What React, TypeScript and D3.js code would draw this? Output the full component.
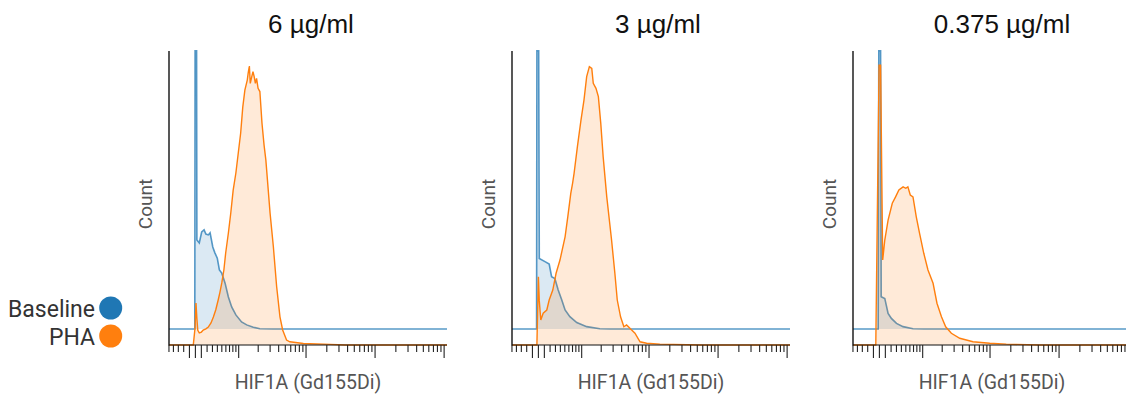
import React from 'react';
import * as d3 from 'd3';

// ---------- data ----------
const panelTitles = ['6 µg/ml', '3 µg/ml', '0.375 µg/ml'];
const seriesNames = ['Baseline', 'PHA'];
const seriesColors = ['#1f77b4', '#ff7f0e'];
const xLabel = 'HIF1A (Gd155Di)';
const yLabel = 'Count';

// x tick values in raw intensity units (arcsinh axis, cofactor 5)
const majorTicks = [-1, 0, 1, 10, 100, 1000, 10000];
const minorTicks = [
  -5, -4, -3, -2,
  2, 3, 4, 5, 6, 7, 8, 9,
  20, 30, 40, 50, 60, 70, 80, 90,
  200, 300, 400, 500, 600, 700, 800, 900,
  2000, 3000, 4000, 5000, 6000, 7000, 8000, 9000,
];

// histogram points: [arcsinh(intensity/5), % of max count]
const baseline6: [number, number][] = [
  [-0.88, 0], [-0.02, 0], [-0.01, 94.6], [0.04, 94.6], [0.05, 30.3], [0.13, 29.3], [0.21, 33], [0.29, 33.7],
  [0.35, 32.3], [0.43, 32], [0.49, 32.7], [0.58, 27.9], [0.65, 25.9], [0.73, 24.1], [0.8, 20.1], [0.88, 19],
  [0.99, 15.6], [1.1, 10.9], [1.21, 7.5], [1.35, 4.8], [1.54, 2.4], [1.71, 1.4], [1.93, 0.6], [2.15, 0.1],
  [2.59, 0], [8.39, 0],
];
const pha6: [number, number][] = [
  [-0.88, 0], [-0.07, 0], [-0.01, 6], [0.02, 14.3], [0.05, 9], [0.08, 5], [0.13, 4.1], [0.2, 4.4], [0.26, 5.1],
  [0.35, 5.5], [0.43, 6.1], [0.52, 7.5], [0.6, 9.5], [0.68, 12], [0.76, 15.3], [0.82, 18], [0.88, 21.1],
  [0.95, 25.5], [1.01, 31.3], [1.1, 38.1], [1.18, 44.9], [1.26, 52.7], [1.35, 58.5], [1.43, 65.3], [1.51, 72.1],
  [1.58, 80.9], [1.65, 86.7], [1.73, 90.1], [1.76, 92.5], [1.8, 94.9], [1.83, 89], [1.88, 91.3], [1.92, 93],
  [1.96, 91.3], [2.0, 89], [2.04, 90.7], [2.09, 87.3], [2.15, 86.2], [2.22, 75.5], [2.29, 68], [2.35, 62.9],
  [2.49, 44.9], [2.6, 33.4], [2.71, 19.8], [2.82, 9.6], [2.91, 5.1], [3.04, 1.7], [3.15, 1.1], [3.6, 0.5],
  [4.49, 0.2], [5.0, 0], [8.39, 0],
];
const baseline3: [number, number][] = [
  [-0.88, 0], [-0.06, 0], [-0.05, 94.6], [0.01, 94.6], [0.03, 24], [0.22, 22.9], [0.36, 22.1], [0.44, 17.8],
  [0.55, 17.2], [0.66, 13.3], [0.78, 9.9], [0.89, 6.5], [1.05, 4.2], [1.28, 2.2], [1.61, 0.8], [2.05, 0.1],
  [2.4, 0], [8.39, 0],
];
const pha3: [number, number][] = [
  [-0.88, 0], [-0.05, 0], [0.0, 23.2], [0.03, 15], [0.08, 8.5], [0.16, 10.8], [0.28, 11.9], [0.36, 15.3],
  [0.48, 18.7], [0.59, 24.4], [0.72, 28.9], [0.89, 36.8], [0.98, 43.6], [1.08, 51.6], [1.14, 55], [1.19, 58.4],
  [1.3, 67.4], [1.42, 76.5], [1.52, 83.3], [1.61, 91.3], [1.7, 94.7], [1.78, 94.1], [1.83, 89], [1.92, 87.3],
  [2.0, 84.5], [2.08, 75.4], [2.16, 64], [2.28, 50.4], [2.44, 35.7], [2.55, 24.4], [2.63, 15.3], [2.74, 9.6],
  [2.85, 6.2], [2.94, 6.8], [3.11, 5.1], [3.22, 4], [3.39, 1.1], [3.61, 0.6], [4.05, 0.3], [5.4, 0], [8.39, 0],
];
const baseline0375: [number, number][] = [
  [-0.88, 0], [-0.04, 0], [-0.02, 94.6], [0.04, 94.6], [0.06, 11], [0.18, 10.4], [0.29, 5.3], [0.4, 3.6],
  [0.57, 1.9], [0.79, 0.8], [1.12, 0.1], [1.5, 0], [8.39, 0],
];
const pha0375: [number, number][] = [
  [-0.88, 0], [-0.12, 0], [-0.01, 95.2], [0.04, 95.2], [0.11, 28.9], [0.18, 35.7], [0.29, 42.5], [0.43, 48.2],
  [0.54, 50.4], [0.65, 52.7], [0.79, 53.8], [0.88, 53.3], [0.95, 53.8], [1.03, 51], [1.12, 50.4], [1.23, 43.6],
  [1.34, 38], [1.48, 31.2], [1.62, 25.5], [1.79, 21], [1.92, 14.2], [2.07, 9.6], [2.21, 6.2], [2.4, 4],
  [2.68, 2.3], [3.12, 1.1], [3.68, 0.6], [4.23, 0.3], [5.34, 0], [8.39, 0],
];

const baselineSeries = [baseline6, baseline3, baseline0375];
const phaSeries = [pha6, pha3, pha0375];

// ---------- layout ----------
const W = 1126;
const H = 397;
const panelLeft = [169, 512, 853];
const panelW = 278;
const plotTop = 51;
const plotBottom = 345;
const blueOffset = 16;
const titleX = [311, 658, 1002];
const COF = 5;
const asinhDomain: [number, number] = [-0.88, 8.39];

const labelFont = 'Roboto, "Noto Sans", sans-serif';
const titleFont = '"Liberation Sans", Arial, sans-serif';

function Panel({ i }: { i: number }) {
  const x0 = panelLeft[i];
  const x = d3.scaleLinear().domain(asinhDomain).range([x0, x0 + panelW]);
  const y = d3.scaleLinear().domain([0, 100]).range([plotBottom, plotBottom - 294]);
  const tx = (v: number) => x(Math.asinh(v / COF));

  const area = d3
    .area<[number, number]>()
    .x((d) => x(d[0]))
    .y0(y(0))
    .y1((d) => y(d[1]));
  const line = d3
    .line<[number, number]>()
    .x((d) => x(d[0]))
    .y((d) => y(d[1]));

  const inDomain = (v: number) => {
    const a = Math.asinh(v / COF);
    return a >= asinhDomain[0] - 0.01 && a <= asinhDomain[1];
  };

  const cx = x0 + panelW / 2;
  return (
    <g>
      <text x={titleX[i]} y={33} textAnchor="middle" fontFamily={titleFont} fontSize={26} fill="#111">
        {panelTitles[i]}
      </text>
      {/* Baseline series (offset) */}
      <g transform={`translate(0,${-blueOffset})`}>
        <path d={area(baselineSeries[i]) || ''} fill={seriesColors[0]} fillOpacity={0.16} />
        <path d={line(baselineSeries[i]) || ''} fill="none" stroke={seriesColors[0]} strokeOpacity={0.75} strokeWidth={1.6} />
      </g>
      {/* PHA series */}
      <path d={area(phaSeries[i]) || ''} fill={seriesColors[1]} fillOpacity={0.16} />
      <path d={line(phaSeries[i]) || ''} fill="none" stroke={seriesColors[1]} strokeWidth={1.4} />
      {/* axes */}
      <line x1={x0} x2={x0} y1={plotTop} y2={plotBottom + 0.5} stroke="#111" strokeWidth={1.4} />
      <line x1={x0} x2={x0 + panelW} y1={plotBottom} y2={plotBottom} stroke="#111" strokeWidth={1.2} />
      {minorTicks.filter(inDomain).map((v) => (
        <line key={'m' + v} x1={tx(v)} x2={tx(v)} y1={plotBottom} y2={plotBottom + 7} stroke="#222" strokeWidth={1.1} />
      ))}
      {majorTicks.filter(inDomain).map((v) => (
        <line key={'M' + v} x1={tx(v)} x2={tx(v)} y1={plotBottom} y2={plotBottom + 13} stroke="#222" strokeWidth={1.1} />
      ))}
      <text x={cx} y={389} textAnchor="middle" fontFamily={labelFont} fontSize={19.5} fill="#555">
        {xLabel}
      </text>
      <text
        transform={`translate(${x0 - 17},${204}) rotate(-90)`}
        textAnchor="middle"
        fontFamily={labelFont}
        fontSize={19}
        fill="#555"
      >
        {yLabel}
      </text>
    </g>
  );
}

export default function App() {
  const legendY = [317, 345];
  return (
    <svg
      width={W}
      height={H}
      viewBox={`0 0 ${W} ${H}`}
      style={{ position: 'absolute', left: 0, top: 0, background: '#fff' }}
    >
      <rect x={0} y={0} width={W} height={H} fill="#fff" />
      {[0, 1, 2].map((i) => (
        <Panel key={i} i={i} />
      ))}
      {seriesNames.map((name, k) => (
        <g key={name}>
          <text x={95} y={legendY[k]} textAnchor="end" fontFamily={labelFont} fontSize={23} fill="#333">
            {name}
          </text>
          <circle cx={110.7} cy={legendY[k] - 9} r={11.5} fill={seriesColors[k]} />
        </g>
      ))}
    </svg>
  );
}
